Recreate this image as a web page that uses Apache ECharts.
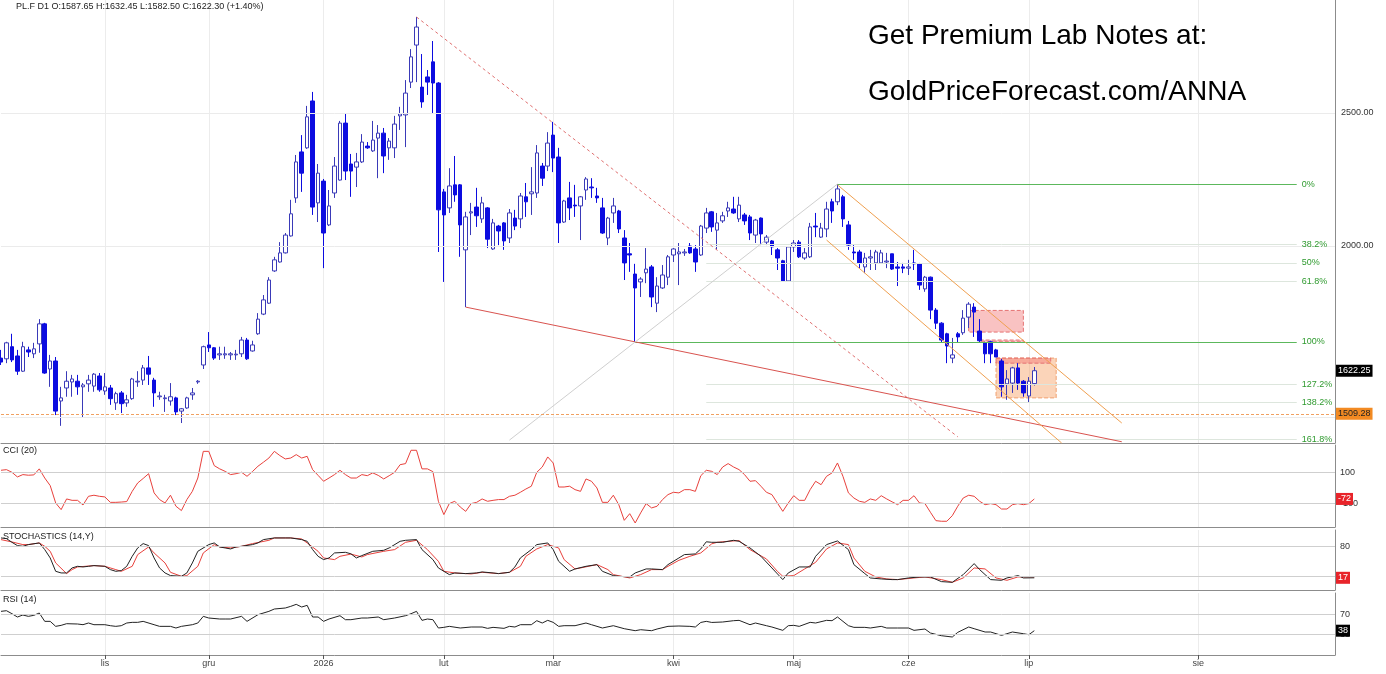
<!DOCTYPE html>
<html style="height: 100%">

<head>
  <meta charset="utf-8">
</head>

<body style="height: 100%; margin: 0; background: #fff">
  <div id="container" style="height: 100%"></div>
  <script type="text/javascript" src="https://cdn.jsdelivr.net/npm/echarts@6/dist/echarts.min.js"></script>
  <script type="text/javascript">
    // PL.F daily. candles: [open, close, low, high]
    var candles = [
      [1657, 1646, 1638, 1680], [1655, 1700, 1643, 1703], [1689, 1652, 1646, 1726], [1663, 1621, 1611, 1680], [1621, 1689, 1619, 1703],
      [1680, 1674, 1660, 1689], [1669, 1683, 1657, 1700], [1697, 1755, 1672, 1769], [1755, 1616, 1614, 1758], [1627, 1649, 1579, 1666],
      [1649, 1516, 1506, 1660], [1542, 1550, 1479, 1579], [1576, 1594, 1553, 1621], [1592, 1600, 1553, 1611], [1594, 1579, 1558, 1611],
      [1579, 1584, 1499, 1589], [1587, 1597, 1566, 1611], [1581, 1613, 1566, 1616], [1608, 1571, 1566, 1616], [1568, 1579, 1558, 1616],
      [1576, 1548, 1532, 1584], [1537, 1561, 1519, 1566], [1563, 1535, 1511, 1568], [1537, 1545, 1527, 1558], [1548, 1600, 1545, 1603],
      [1592, 1594, 1579, 1621], [1597, 1630, 1584, 1638], [1630, 1613, 1584, 1663], [1597, 1563, 1527, 1603], [1553, 1555, 1545, 1566],
      [1548, 1550, 1514, 1558], [1542, 1553, 1530, 1589], [1550, 1514, 1506, 1553], [1516, 1522, 1486, 1524], [1524, 1550, 1522, 1553],
      [1558, 1563, 1545, 1576], [1592, 1594, 1587, 1597], [1638, 1689, 1627, 1692], [1694, 1686, 1674, 1731], [1686, 1657, 1652, 1688],
      [1666, 1669, 1652, 1689], [1666, 1669, 1655, 1689], [1666, 1669, 1652, 1674], [1666, 1668, 1652, 1680], [1669, 1708, 1660, 1717],
      [1708, 1655, 1652, 1714], [1677, 1694, 1675, 1706], [1726, 1769, 1723, 1787], [1784, 1827, 1781, 1842], [1817, 1889, 1815, 1898],
      [1918, 1954, 1915, 1964], [1947, 1977, 1945, 2013], [1977, 2037, 1975, 2044], [2034, 2111, 2032, 2161], [2168, 2303, 2150, 2330],
      [2342, 2260, 2190, 2409], [2358, 2484, 2354, 2530], [2551, 2135, 2107, 2590], [2150, 2260, 2082, 2295], [2230, 2044, 1927, 2238],
      [2072, 2139, 2068, 2197], [2186, 2287, 2168, 2322], [2234, 2458, 2232, 2467], [2458, 2268, 2234, 2496], [2295, 2268, 2172, 2334],
      [2283, 2303, 2208, 2338], [2303, 2381, 2299, 2413], [2365, 2358, 2354, 2381], [2346, 2389, 2342, 2467], [2397, 2417, 2241, 2450],
      [2417, 2326, 2260, 2438], [2358, 2385, 2311, 2397], [2358, 2454, 2318, 2488], [2488, 2496, 2430, 2526], [2492, 2585, 2361, 2642],
      [2633, 2747, 2607, 2783], [2802, 2888, 2633, 2937], [2611, 2547, 2522, 2760], [2656, 2633, 2577, 2687], [2724, 2629, 2500, 2821],
      [2629, 2125, 1980, 2633], [2190, 2107, 1883, 2201], [2132, 2212, 2114, 2279], [2216, 2179, 2154, 2326], [2216, 2072, 1964, 2219],
      [1987, 2100, 1805, 2118], [2114, 2118, 2037, 2150], [2135, 2104, 2065, 2205], [2093, 2150, 2079, 2172], [2132, 2023, 1993, 2135],
      [1990, 2079, 1987, 2093], [2068, 2051, 2003, 2072], [2079, 2017, 1987, 2082], [2027, 2114, 2010, 2128], [2096, 2068, 2054, 2125],
      [2093, 2175, 2061, 2186], [2172, 2154, 2100, 2223], [2183, 2190, 2107, 2283], [2186, 2338, 2168, 2369], [2287, 2241, 2212, 2299],
      [2287, 2377, 2268, 2421], [2409, 2318, 2264, 2463], [2322, 2079, 2010, 2358], [2082, 2157, 2079, 2161], [2168, 2132, 2089, 2227],
      [2142, 2139, 2100, 2216], [2139, 2172, 2020, 2175], [2197, 2238, 2161, 2245], [2208, 2205, 2168, 2241], [2175, 2168, 2150, 2205],
      [2132, 2044, 2041, 2168], [2027, 2096, 2003, 2100], [2114, 2139, 2079, 2168], [2121, 2058, 2044, 2125], [2027, 1944, 1889, 2054],
      [1974, 1970, 1915, 2010], [1908, 1864, 1703, 1941], [1883, 1892, 1836, 1898], [1912, 1924, 1879, 1993], [1931, 1836, 1805, 1937],
      [1817, 1870, 1790, 1898], [1864, 1905, 1861, 1937], [1898, 1964, 1873, 1970], [1970, 1990, 1947, 1993], [1974, 1980, 1873, 2010],
      [1977, 1980, 1967, 1990], [2000, 1977, 1974, 2010], [1990, 1947, 1915, 2003], [1970, 2068, 1967, 2072], [2061, 2114, 2044, 2132],
      [2118, 2065, 2048, 2121], [2054, 2079, 1987, 2114], [2086, 2104, 2079, 2118], [2121, 2132, 2100, 2154], [2128, 2114, 2111, 2172],
      [2093, 2142, 2082, 2172], [2107, 2086, 2072, 2114], [2100, 2044, 2020, 2107], [2037, 2089, 2010, 2093], [2096, 2041, 2003, 2098],
      [2013, 2030, 2003, 2037], [2017, 1997, 1970, 2020], [1987, 1960, 1921, 1993], [1951, 1886, 1883, 1954], [1886, 1997, 1883, 2000],
      [1997, 2010, 1980, 2020], [2013, 1964, 1960, 2020], [1960, 1977, 1954, 1993], [1964, 2065, 1960, 2079], [2068, 2065, 2030, 2114],
      [2030, 2061, 2027, 2079], [2058, 2128, 2030, 2154], [2154, 2121, 2079, 2165], [2154, 2201, 2142, 2219], [2172, 2093, 2065, 2179],
      [2072, 2003, 1987, 2086], [1980, 1977, 1954, 2003], [1980, 1944, 1927, 1987], [1931, 1960, 1911, 1977], [1960, 1964, 1921, 1987],
      [1944, 1980, 1921, 1987], [1944, 1977, 1941, 1987], [1947, 1950, 1927, 1977], [1974, 1924, 1921, 1974], [1931, 1927, 1870, 1947],
      [1931, 1927, 1911, 1944], [1927, 1931, 1905, 1954], [1944, 1941, 1921, 1987], [1941, 1873, 1858, 1944], [1861, 1898, 1852, 1902],
      [1898, 1796, 1769, 1900], [1796, 1757, 1740, 1802], [1757, 1708, 1700, 1760], [1726, 1691, 1643, 1729], [1657, 1666, 1643, 1714],
      [1726, 1717, 1700, 1731], [1729, 1772, 1723, 1796], [1775, 1814, 1743, 1820], [1805, 1790, 1717, 1817], [1734, 1706, 1700, 1769],
      [1700, 1669, 1643, 1703], [1703, 1669, 1643, 1706], [1680, 1660, 1660, 1683], [1649, 1579, 1553, 1655], [1587, 1600, 1545, 1624],
      [1589, 1630, 1563, 1633], [1630, 1589, 1571, 1643], [1594, 1563, 1553, 1597], [1555, 1594, 1537, 1605], [1587.65, 1622.30, 1582.50, 1632.45]
    ];

    // CCI(20), one value per session
    var cci = [
      113, 117, 100, 70, 85, 81, 83, 122, 63, 14, -98, -141, -72, -81, -81, -111, -55, -48, -55, -59,
      -94, -94, -92, -89, -23, 31, 60, 91, -33, -76, -98, -48, -119, -147, -76, -23, 63, 235, 235, 143,
      122, 106, 85, 91, 100, 74, 105, 139, 165, 192, 235, 208, 186, 192, 214, 192, 203, 117, 80, 42,
      63, 85, 113, 85, 63, 63, 85, 78, 96, 80, 57, 78, 100, 149, 156, 242, 242, 122, 122, 104,
      -87, -173, -102, -87, -124, -152, -102, -94, -72, -87, -81, -76, -76, -55, -48, -29, -8, 10, 100, 134,
      199, 160, 5, 5, 10, -12, -23, 57, 42, -1, -94, -94, -48, -109, -210, -167, -227, -162, -102, -130,
      -119, -76, -44, -29, -33, -12, -12, -23, 78, 113, 106, 85, 134, 156, 134, 117, 85, 42, 46, 10,
      -29, -44, -98, -152, -98, -51, -81, -81, -12, 42, 20, 74, 96, 160, 74, -33, -66, -87, -94, -72,
      -81, -51, -72, -91, -109, -81, -81, -51, -98, -102, -158, -212, -216, -216, -180, -119, -66, -48, -55, -87,
      -109, -102, -109, -137, -137, -109, -102, -109, -102, -72
    ];

    // stochastics and RSI: [session index, value] where read
    var stochK = [
      [0, 96.7], [1, 95.4], [2, 88], [3, 81.4], [4, 80], [5, 83.4], [7, 86.7], [8, 73.4], [9, 56.7], [10, 30], [11, 26.7], [12, 26.7],
      [13, 36.7], [14, 40], [15, 38.7], [16, 40], [17, 41.4], [19, 40], [20, 33.4], [21, 30], [22, 31.4], [23, 40], [24, 60], [25, 76.7],
      [26, 85.4], [27, 81.4], [28, 56.7], [29, 36.7], [30, 26.7], [31, 21.4], [33, 20], [34, 26.7], [35, 46.7], [36, 70], [38, 83.4],
      [39, 86.7], [40, 78.7], [41, 76.7], [42, 74.7], [43, 78.7], [44, 80], [46, 83.4], [47, 86.7], [48, 93.4], [50, 96.7], [52, 96.7],
      [53, 96.7], [55, 93.4], [56, 90], [57, 73.4], [58, 60], [59, 53.4], [60, 56.7], [61, 66.7], [63, 68], [64, 65], [65, 56.7],
      [66, 61.4], [68, 70], [70, 72], [71, 76.7], [73, 90], [74, 92], [76, 93.4], [77, 73.4], [79, 53.4], [80, 36.7], [82, 23.4],
      [83, 26.7], [85, 25.4], [87, 26.7], [88, 28.7], [90, 26.7], [91, 25.4], [93, 28], [94, 38.7], [95, 56.7], [97, 73.4], [98, 83.4],
      [100, 86.7], [101, 73.4], [102, 50], [104, 30], [105, 34.7], [107, 40], [109, 43.4], [110, 30], [112, 21.4], [113, 20], [115, 18.7],
      [116, 26.7], [118, 34.7], [119, 34.7], [121, 33.4], [122, 43.4], [124, 56.7], [125, 63.4], [127, 64.7], [128, 74.7], [129, 89],
      [130, 88], [132, 88], [134, 92], [135, 90], [137, 76.7], [139, 60], [141, 36.7], [143, 13.4], [144, 26.7], [146, 38.7], [148, 38.7],
      [149, 60], [151, 83.4], [153, 90.7], [155, 73.4], [156, 43.4], [158, 25.4], [159, 16.7], [161, 14.7], [163, 13.4], [164, 13.4],
      [166, 16.7], [168, 18.7], [170, 18.7], [172, 9.4], [174, 8], [176, 23.4], [178, 45.4], [179, 33.4], [181, 13.4], [183, 12],
      [184, 16.7], [186, 21.4], [187, 16.7], [189, 17]
    ];
    var stochD = [
      [0, 93.4], [2, 88.7], [4, 83.4], [5, 83.4], [7, 86.7], [8, 80], [9, 70], [10, 46.7], [12, 25.4], [13, 33.4], [14, 38.7], [17, 41.4],
      [19, 40], [21, 33.4], [22, 30], [24, 40], [25, 63.4], [27, 78.7], [28, 66.7], [30, 46.7], [31, 28], [33, 20], [34, 21.4], [36, 40],
      [37, 66.7], [39, 83.4], [40, 78.7], [42, 76.7], [44, 80], [46, 85.4], [49, 92], [50, 96.7], [53, 96.7], [55, 94.7], [56, 86.7],
      [58, 70], [59, 56.7], [61, 53.4], [62, 60], [64, 64.4], [66, 58.7], [67, 63.4], [70, 70], [72, 73.4], [74, 88], [76, 92], [78, 73.4],
      [80, 50], [81, 30], [83, 26.7], [86, 24.7], [88, 28], [91, 25.4], [93, 28], [95, 40], [96, 60], [98, 74.7], [100, 83.4], [102, 76.7],
      [103, 53.4], [105, 34.7], [106, 36.7], [109, 43.4], [111, 33.4], [112, 23.4], [115, 16.7], [117, 23.4], [119, 33.4], [121, 33.4],
      [122, 40], [124, 52], [126, 60], [128, 66.7], [130, 85], [131, 88], [133, 90], [135, 91.4], [137, 73.4], [140, 54.7], [142, 30],
      [143, 20], [145, 21.4], [147, 34.7], [149, 48], [151, 74.7], [153, 86.7], [155, 83.4], [156, 56.7], [158, 30], [160, 18.7],
      [162, 14.7], [164, 13.4], [167, 16.7], [169, 18.7], [172, 13.4], [174, 8], [176, 16.7], [178, 36.7], [180, 34.7], [182, 16.7],
      [184, 12], [186, 18.7], [189, 18.7]
    ];
    var rsi = [
      [0, 76.7], [1, 78], [2, 72], [3, 65.4], [4, 69.4], [5, 66.7], [6, 68.7], [7, 73.4], [8, 56.7], [9, 56.7], [10, 46.7], [11, 48.7],
      [12, 52], [14, 51.4], [15, 50], [16, 53.4], [17, 50], [19, 50], [20, 48], [21, 46.7], [22, 48], [23, 53.4], [24, 54.7], [25, 54.7],
      [26, 56.7], [28, 50], [29, 46.7], [31, 46.7], [32, 43.4], [33, 46.7], [35, 50], [36, 53.4], [37, 66.7], [38, 63.4], [40, 61.4],
      [41, 61.4], [42, 61.4], [44, 66.7], [45, 56.7], [47, 70], [49, 76.7], [50, 81.4], [52, 83.4], [53, 86.7], [54, 90.7], [55, 85.4],
      [56, 88.7], [57, 65.4], [58, 65.4], [59, 56.7], [60, 61.4], [62, 68], [63, 60], [64, 60], [66, 63.4], [67, 63.4], [69, 65.4],
      [70, 60], [72, 63.4], [74, 68], [75, 72], [76, 76.7], [77, 58.7], [78, 61.4], [79, 60], [80, 43.4], [81, 44.7], [82, 46.7],
      [84, 43.4], [86, 45.4], [88, 45.4], [89, 42.7], [90, 44.7], [92, 42.7], [93, 46.7], [94, 45.4], [95, 50], [97, 50], [98, 58],
      [99, 53.4], [100, 58.7], [101, 54.7], [102, 46.7], [103, 48], [105, 48], [107, 53.4], [108, 50], [110, 43.4], [112, 48], [114, 42],
      [116, 38], [117, 40], [119, 38], [120, 41.4], [122, 46.7], [124, 47.4], [126, 46.7], [127, 45.4], [128, 54.5], [129, 56.7],
      [130, 54.5], [132, 55.4], [134, 58], [135, 58.7], [137, 50], [138, 53.4], [140, 48], [141, 45.4], [143, 38.7], [144, 48],
      [145, 48.7], [146, 46.7], [148, 54.7], [149, 53.4], [151, 58.7], [152, 58], [153, 65.4], [155, 48], [156, 44.7], [158, 44.7],
      [159, 43.4], [161, 46.7], [162, 43.4], [164, 43.4], [166, 43.4], [167, 38.7], [169, 41.4], [170, 33.4], [172, 28], [174, 25.4],
      [175, 34.7], [177, 45.4], [178, 42], [180, 35.4], [181, 35.4], [183, 28.7], [184, 32], [185, 35.4], [187, 32], [188, 30], [189, 38]
    ];

    var priceLabels = [2000, 2500];
    var priceGrid = [1500, 2000, 2500];
    var lastPrice = 1622.25;
    var supportLevel = 1509.28;

    // fibonacci between the May high and the March low
    var fibHigh = ['2026-05-13', 2219];
    var fibLow = ['2026-03-23', 1703];
    var fibRatios = [0, 0.382, 0.5, 0.618, 1, 1.272, 1.382, 1.618];
    var fibEnd = '2026-08-19';

    var redDashed = [['2026-01-26', 2937], ['2026-06-12', 1452]];
    var redSupport = [['2026-02-06', 1805], ['2026-07-18', 1440]];
    var grayRise = [['2026-02-18', 1444], ['2026-05-13', 2219]];
    var channelTop = [['2026-05-13', 2216], ['2026-07-18', 1486]];
    var channelBottom = [['2026-05-11', 2020], ['2026-07-07', 1437]];

    var redZones = [
      [['2026-06-16', 1795], ['2026-06-30', 1731]],
      [['2026-06-18', 1708], ['2026-06-30', 1703]],
      [['2026-06-23', 1657], ['2026-07-05', 1643]]
    ];
    var orangeZone = [['2026-06-23', 1657], ['2026-07-06', 1550]];

    var monthNames = ['sty', 'lut', 'mar', 'kwi', 'maj', 'cze', 'lip', 'sie', 'wrz', 'paź', 'lis', 'gru'];
    var holidays = ['2025-11-27', '2025-12-25', '2025-12-26'];

    // sessions, then plain calendar days for the empty space on the right
    var dates = [];
    var t = Date.UTC(2025, 9, 7);
    while (dates.length < 245) {
      var d = new Date(t);
      var s = d.toISOString().slice(0, 10);
      var wd = d.getUTCDay();
      if (dates.length >= candles.length || (wd !== 0 && wd !== 6 && holidays.indexOf(s) < 0)) {
        dates.push(s);
      }
      t += 86400000;
    }

    function monthStart(i) {
      return i > 0 && dates[i].slice(0, 7) !== dates[i - 1].slice(0, 7);
    }

    function monthLabel(v) {
      var m = +v.slice(5, 7);
      return m === 1 ? v.slice(0, 4) : monthNames[m - 1];
    }

    var font = '"Liberation Sans", Arial, sans-serif';

    function seg(p, color, type) {
      return [{ coord: p[0], lineStyle: { color: color, type: type || 'solid', width: 1 } }, { coord: p[1] }];
    }

    function tag(value, text, bg, fg) {
      return {
        yAxis: value,
        lineStyle: { color: 'rgba(0,0,0,0)', width: 1 },
        label: {
          show: true, position: 'end', distance: 1, formatter: text,
          backgroundColor: bg, color: fg, padding: [2, 2, 1, 2], fontSize: 9, fontFamily: font
        }
      };
    }

    function gridLine(value, text) {
      return {
        yAxis: value,
        lineStyle: { color: '#cfcfcf', type: 'solid', width: 1 },
        label: { show: !!text, position: 'end', distance: 5, formatter: text || '', color: '#333', fontSize: 9, fontFamily: font }
      };
    }

    var priceMarks = [];
    priceGrid.forEach(function (v) {
      priceMarks.push({
        yAxis: v,
        lineStyle: { color: '#ebebeb', type: 'solid', width: 1 },
        label: { show: priceLabels.indexOf(v) >= 0, position: 'end', distance: 6, formatter: v.toFixed(2), color: '#333', fontSize: 9, fontFamily: font }
      });
    });

    var lnH = Math.log(fibHigh[1]), lnL = Math.log(fibLow[1]);
    fibRatios.forEach(function (r) {
      var level = Math.exp(lnH - r * (lnH - lnL));
      var strong = r === 0 || r === 1;
      var from = r === 0 ? fibHigh[0] : fibLow[0];
      if (!strong) from = '2026-04-09';
      var txt = (r * 100).toFixed(1).replace('.0', '') + '%';
      priceMarks.push([
        {
          coord: [from, level],
          lineStyle: { color: strong ? '#5cb85c' : '#dde6dd', type: 'solid', width: 1 },
          label: { show: true, position: 'end', distance: 5, formatter: txt, color: '#2f9a2f', fontSize: 9, fontFamily: font }
        },
        { coord: [fibEnd, level] }
      ]);
    });

    priceMarks.push(seg(redDashed, '#e07070', [3, 3]));
    priceMarks.push(seg(redSupport, '#d9534f'));
    priceMarks.push(seg(grayRise, '#cfcfcf'));
    priceMarks.push(seg(channelTop, '#f0a050'));
    priceMarks.push(seg(channelBottom, '#f0a050'));
    priceMarks.push({ yAxis: supportLevel, lineStyle: { color: '#f0a060', type: [3, 2], width: 1 } });
    priceMarks.push(tag(lastPrice, lastPrice.toFixed(2), '#000', '#fff'));
    priceMarks.push(tag(supportLevel, supportLevel.toFixed(2), '#f28a22', '#222'));

    var zoneData = redZones.map(function (z) {
      return [{ coord: z[0], itemStyle: { color: 'rgba(240,110,110,0.42)', borderColor: '#e57373', borderWidth: 1, borderType: 'dashed' } }, { coord: z[1] }];
    });
    zoneData.unshift([{ coord: orangeZone[0], itemStyle: { color: 'rgba(246,160,100,0.45)', borderColor: '#f0a070', borderWidth: 1, borderType: 'dashed' } }, { coord: orangeZone[1] }]);

    var grids = [
      { left: 1, right: 51, top: 0, height: 443 },
      { left: 1, right: 51, top: 445, height: 82 },
      { left: 1, right: 51, top: 530, height: 60 },
      { left: 1, right: 51, top: 593, height: 62 }
    ];

    function xAxisFor(i, labels) {
      return {
        type: 'category', gridIndex: i, data: dates, boundaryGap: false,
        axisLine: { show: true, onZero: false, lineStyle: { color: '#8c8c8c' } },
        axisTick: { show: labels, interval: monthStart, length: 4, lineStyle: { color: '#555' } },
        axisLabel: { show: labels, interval: monthStart, formatter: monthLabel, color: '#444', fontSize: 9, margin: 4, fontFamily: font },
        splitLine: { show: true, interval: monthStart, lineStyle: { color: '#ececec' } }
      };
    }

    function yAxisFor(i, type, min, max) {
      return {
        type: type, gridIndex: i, position: 'right', min: min, max: max,
        axisLine: { show: true, lineStyle: { color: '#8c8c8c' } },
        axisTick: { show: false }, axisLabel: { show: false }, splitLine: { show: false }
      };
    }

    var lastK = stochK[stochK.length - 1][1];
    var lastRsi = rsi[rsi.length - 1][1];
    var lastCci = cci[cci.length - 1];

    var dom = document.getElementById('container');
    var myChart = echarts.init(dom);

    var option = {
      animation: false,
      backgroundColor: '#fff',
      grid: grids,
      xAxis: [xAxisFor(0, false), xAxisFor(1, false), xAxisFor(2, false), xAxisFor(3, true)],
      yAxis: [
        yAxisFor(0, 'log', 1437, 3022),
        yAxisFor(1, 'value', -253, 276),
        yAxisFor(2, 'value', -7.4, 112.6),
        yAxisFor(3, 'value', -10.6, 113.4)
      ],
      graphic: [
        { type: 'text', z: 100, left: 16, top: 2, style: { text: 'PL.F D1 O:1587.65 H:1632.45 L:1582.50 C:1622.30 (+1.40%)', font: '9px ' + font, fill: '#222' } },
        { type: 'text', z: 100, left: 868, top: 22, style: { text: 'Get Premium Lab Notes at:', font: '28px ' + font, fill: '#000' } },
        { type: 'text', z: 100, left: 868, top: 78, style: { text: 'GoldPriceForecast.com/ANNA', font: '28px ' + font, fill: '#000' } },
        { type: 'text', z: 100, left: 3, top: 446, style: { text: 'CCI (20)', font: '9px ' + font, fill: '#222' } },
        { type: 'text', z: 100, left: 3, top: 532, style: { text: 'STOCHASTICS (14,Y)', font: '9px ' + font, fill: '#222' } },
        { type: 'text', z: 100, left: 3, top: 595, style: { text: 'RSI (14)', font: '9px ' + font, fill: '#222' } }
      ],
      series: [
        {
          type: 'candlestick', xAxisIndex: 0, yAxisIndex: 0, data: candles, barWidth: 4,
          itemStyle: { color: '#ffffff', color0: '#0c0ce0', borderColor: '#3a3ab8', borderColor0: '#0c0ce0', borderWidth: 1 },
          markLine: { symbol: 'none', silent: true, label: { show: false }, data: priceMarks },
          markArea: { silent: true, data: zoneData }
        },
        {
          type: 'line', xAxisIndex: 1, yAxisIndex: 1, data: cci, symbol: 'none',
          lineStyle: { color: '#e8413c', width: 1 }, itemStyle: { color: '#e8413c' },
          markLine: { symbol: 'none', silent: true, label: { show: false }, data: [gridLine(100, '100'), gridLine(-100, '-100'), tag(lastCci, String(lastCci), '#e8242a', '#fff')] }
        },
        {
          type: 'line', xAxisIndex: 2, yAxisIndex: 2, data: stochD, symbol: 'none',
          lineStyle: { color: '#e8413c', width: 1 }, itemStyle: { color: '#e8413c' },
          markLine: { symbol: 'none', silent: true, label: { show: false }, data: [gridLine(80, '80'), gridLine(20, '20')] }
        },
        {
          type: 'line', xAxisIndex: 2, yAxisIndex: 2, data: stochK, symbol: 'none',
          lineStyle: { color: '#222', width: 1 }, itemStyle: { color: '#222' },
          markLine: { symbol: 'none', silent: true, label: { show: false }, data: [tag(lastK, String(lastK), '#e8242a', '#fff')] }
        },
        {
          type: 'line', xAxisIndex: 3, yAxisIndex: 3, data: rsi, symbol: 'none',
          lineStyle: { color: '#222', width: 1 }, itemStyle: { color: '#222' },
          markLine: { symbol: 'none', silent: true, label: { show: false }, data: [gridLine(70, '70'), gridLine(30, '30'), tag(lastRsi, String(lastRsi), '#000', '#fff')] }
        }
      ]
    };

    myChart.setOption(option);
  </script>
</body>

</html>
